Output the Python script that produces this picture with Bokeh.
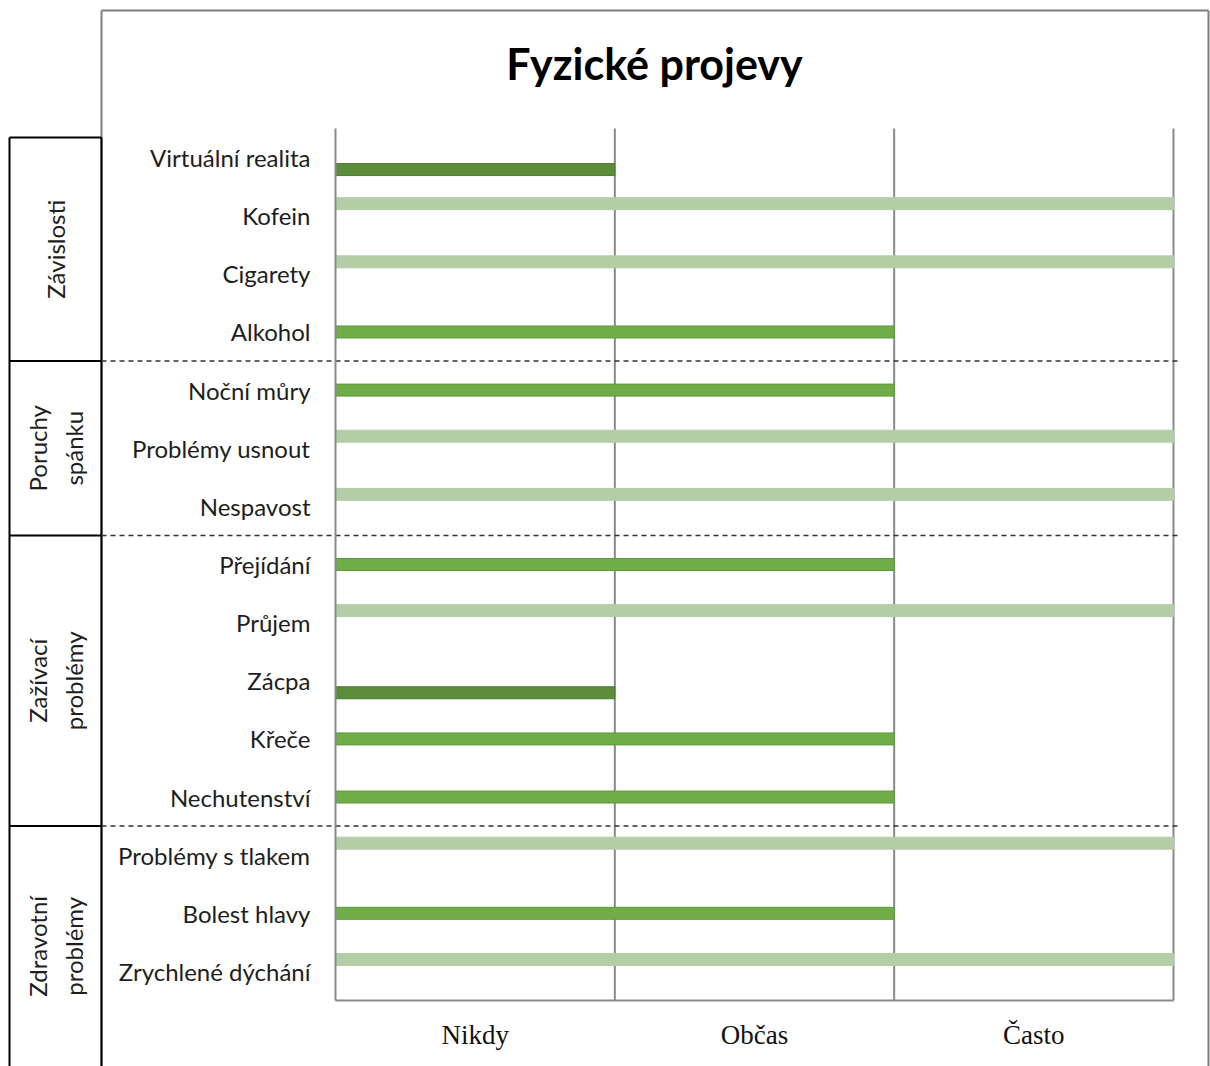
from bokeh.plotting import figure
from bokeh.models import Range1d, LinearAxis, FixedTicker, ColumnDataSource
from bokeh.transform import dodge
from bokeh.core.properties import value
from bokeh.embed import file_html
from bokeh.resources import INLINE
import math

# ---------------- data ----------------
categories = ["Virtuální realita", "Kofein", "Cigarety", "Alkohol",
              "Noční můry", "Problémy usnout", "Nespavost",
              "Přejídání", "Průjem", "Zácpa", "Křeče", "Nechutenství",
              "Problémy s tlakem", "Bolest hlavy", "Zrychlené dýchání"]
values = [1, 3, 3, 2, 2, 3, 3, 2, 3, 1, 2, 2, 3, 2, 3]
levels = ["Nikdy", "Občas", "Často"]
level_values = [1, 2, 3]
groups = ["Závislosti", "Poruchy\nspánku", "Zažívací\nproblémy", "Zdravotní\nproblémy"]
group_sizes = [4, 3, 5, 3]
title = "Fyzické projevy"

# ---------------- layout (pixels) ----------------
W, H = 1210, 1066
PL, PR, PT, PB = 335, 1173, 128, 1000   # plot area edges
n = len(categories)
xmax = max(level_values)
ux = (PR - PL) / xmax
uy = (PB - PT) / n

def px2x(px):
    return (px - PL) / ux

def py2y(py):
    return (PB - py) / uy

p = figure(width=W, height=H, output_backend="svg", toolbar_location=None,
           x_range=Range1d(px2x(0), px2x(W)), y_range=Range1d(py2y(H), py2y(0)),
           x_axis_type=None, y_axis_type=None, min_border=0,
           outline_line_color=None, background_fill_color="white",
           border_fill_color="white")
p.xgrid.visible = False
p.ygrid.visible = False

centers = [n - i - 0.5 for i in range(n)]

# vertical gridlines
p.segment(x0=level_values, y0=[0] * len(level_values), x1=level_values,
          y1=[n] * len(level_values), line_color="#8a8a8a", line_width=2)

# bars (clustered, one series per level)
bar_h = 12 / uy
colors = {1: "#5b8c3a", 2: "#70ad47", 3: "#b3cea6"}
edges = {1: "#4d7a30", 2: "#5f9a3c", 3: "#b3cea6"}
offsets = {1: -bar_h, 2: 0.0, 3: bar_h}
for lv in level_values:
    ys = [c for c, v in zip(centers, values) if v == lv]
    rs = [v for v in values if v == lv]
    src = ColumnDataSource(dict(y=ys, right=rs))
    p.hbar(y=dodge("y", offsets[lv], range=p.y_range), right="right", left=0,
           height=bar_h, source=src, fill_color=colors[lv],
           line_color=edges[lv], line_width=1)

# axes
yax = LinearAxis(fixed_location=0, bounds=(0, n),
                 ticker=FixedTicker(ticks=centers),
                 major_label_overrides={c: name for c, name in zip(centers, categories)})
yax.axis_line_color = "#8a8a8a"
yax.axis_line_width = 2
yax.major_tick_line_color = None
yax.minor_tick_line_color = None
yax.major_tick_out = 0
yax.major_label_standoff = 25
yax.major_label_text_font = "Lato"
yax.major_label_text_font_size = "24px"
yax.major_label_text_color = "#1e1e1e"
p.add_layout(yax, "left")

xticks = [lv - 0.5 for lv in level_values]
xax = LinearAxis(fixed_location=0, bounds=(0, xmax),
                 ticker=FixedTicker(ticks=xticks),
                 major_label_overrides={t: name for t, name in zip(xticks, levels)})
xax.axis_line_color = "#8a8a8a"
xax.axis_line_width = 2
xax.major_tick_line_color = None
xax.minor_tick_line_color = None
xax.major_tick_out = 0
xax.major_label_standoff = 19
xax.major_label_text_font = "Liberation Serif"
xax.major_label_text_font_size = "27px"
xax.major_label_text_color = "#111111"
p.add_layout(xax, "below")

# title
p.text(x=[px2x(654)], y=[py2y(63)], text=[title], text_font=value("Lato"),
       text_font_style="bold", text_font_size="43px", text_align="center",
       text_baseline="middle", text_color="#000000")

# outer frame
p.segment(x0=[px2x(101), px2x(101), px2x(1208)],
          y0=[py2y(10), py2y(10), py2y(10)],
          x1=[px2x(1208), px2x(101), px2x(1208)],
          y1=[py2y(10), py2y(H), py2y(H)],
          line_color="#7f7f7f", line_width=2)

# group panel
bounds = [n]
acc = n
for s in group_sizes:
    acc -= s
    bounds.append(acc)
box_top = py2y(137)
box_bottom = py2y(H)
gx0, gx1 = px2x(9), px2x(101)
p.segment(x0=[gx0, gx1], y0=[box_top, box_top], x1=[gx0, gx1], y1=[box_bottom, box_bottom],
          line_color="#000000", line_width=2)
p.segment(x0=[gx0], y0=[box_top], x1=[gx1], y1=[box_top], line_color="#000000", line_width=2)
divs = bounds[1:-1]
p.segment(x0=[gx0] * len(divs), y0=divs, x1=[gx1] * len(divs), y1=divs,
          line_color="#000000", line_width=2)
p.segment(x0=[gx1] * len(divs), y0=divs, x1=[px2x(1180)] * len(divs), y1=divs,
          line_color="#333333", line_width=1.5, line_dash="5 4")

# group labels
tops = [box_top] + divs
bots = divs + [box_bottom]
gy = [(a + b) / 2 for a, b in zip(tops, bots)]
p.text(x=[(gx0 + gx1) / 2] * len(groups), y=gy, text=groups, angle=math.pi / 2,
       text_font=value("Lato"), text_font_size="24px", text_align="center",
       text_baseline="middle", text_color="#1e1e1e", text_line_height=1.25)

open("out.html", "w").write(file_html(p, INLINE))
